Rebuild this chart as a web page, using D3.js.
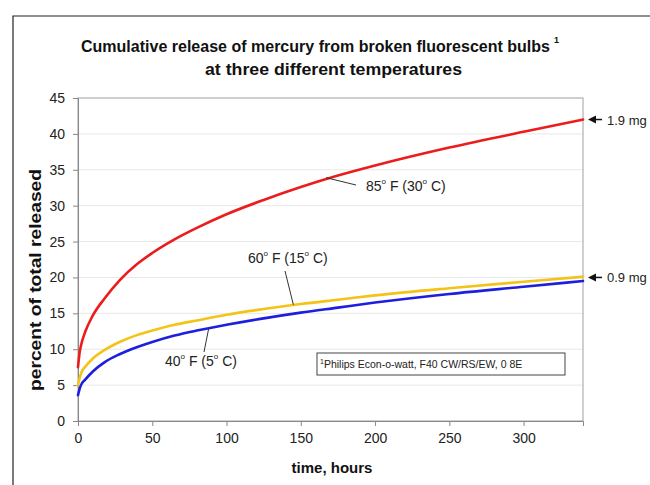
<!DOCTYPE html>
<html>
<head>
<meta charset="utf-8">
<script src="https://cdn.jsdelivr.net/npm/d3@7"></script>
<style>
  body { margin: 0; background: #fff; }
  svg { display: block; font-family: "Liberation Sans", Arial, sans-serif; }
</style>
</head>
<body>
<div id="chart"></div>
<script>
// ---- data ----
const hours   = [0, 1, 2, 5, 10, 18, 28, 40, 50, 65, 80, 100, 125, 150, 175, 200, 250, 300, 340];
const temp85F = [7.5, 9.4, 10.5, 12.5, 14.7, 17.1, 19.6, 21.9, 23.4, 25.3, 26.9, 28.8, 30.8, 32.6, 34.2, 35.6, 38.1, 40.3, 42.0];
const temp60F = [5.0, 5.9, 6.6, 7.6, 8.7, 9.9, 11.0, 12.0, 12.6, 13.4, 14.0, 14.8, 15.6, 16.3, 16.9, 17.5, 18.5, 19.4, 20.1];
const temp40F = [3.6, 4.4, 5.0, 5.8, 6.9, 8.2, 9.3, 10.3, 11.0, 11.9, 12.6, 13.4, 14.3, 15.1, 15.8, 16.5, 17.7, 18.7, 19.5];
const xTicks = [0, 50, 100, 150, 200, 250, 300];
const yTicks = [0, 5, 10, 15, 20, 25, 30, 35, 40, 45];
const colors = ["#ec1c1c", "#f4c318", "#1e1ede"];

const W = 650, H = 485;
const svg = d3.select("#chart").append("svg").attr("width", W).attr("height", H);

// outer frame (left and top edges visible)
svg.append("path").attr("d", "M13,485 L13,16 L650,16").attr("fill", "none").attr("stroke", "#222").attr("stroke-width", 1.2);

const plot = { left: 78, right: 583, top: 98, bottom: 421 };
const x = d3.scaleLinear().domain([0, 340]).range([plot.left, plot.right]);
const y = d3.scaleLinear().domain([0, 45]).range([plot.bottom, plot.top]);

// title
const title = svg.append("g").attr("font-weight", "bold").attr("fill", "#111");
title.append("text").attr("x", 81).attr("y", 52).attr("font-size", 16.2)
  .attr("textLength", 469).attr("lengthAdjust", "spacingAndGlyphs")
  .text("Cumulative release of mercury from broken fluorescent bulbs");
title.append("text").attr("x", 554).attr("y", 43).attr("font-size", 9).text("1");
title.append("text").attr("x", 205).attr("y", 75).attr("font-size", 16.5)
  .attr("textLength", 257).attr("lengthAdjust", "spacingAndGlyphs")
  .text("at three different temperatures");

// gridlines
svg.append("g").selectAll("line").data(yTicks.filter(d => d > 0 && d < 45)).join("line")
  .attr("x1", plot.left).attr("x2", plot.right)
  .attr("y1", d => y(d)).attr("y2", d => y(d))
  .attr("stroke", "#e8e8e8").attr("stroke-width", 1);

// plot border
svg.append("rect").attr("x", plot.left).attr("y", plot.top)
  .attr("width", plot.right - plot.left).attr("height", plot.bottom - plot.top)
  .attr("fill", "none").attr("stroke", "#a0a0a0").attr("stroke-width", 1);

// axes
const yAxis = svg.append("g").attr("transform", `translate(${plot.left},0)`)
  .call(d3.axisLeft(y).tickValues(yTicks).tickSize(5).tickPadding(8));
const xAxis = svg.append("g").attr("transform", `translate(0,${plot.bottom})`)
  .call(d3.axisBottom(x).tickValues(xTicks).tickSize(5).tickPadding(7));
[yAxis, xAxis].forEach(a => {
  a.select(".domain").attr("stroke", "#888");
  a.selectAll(".tick line").attr("stroke", "#888");
  a.selectAll(".tick text").attr("font-size", 14).attr("fill", "#222")
    .attr("font-family", "'Liberation Sans', Arial, sans-serif");
});

// axis titles
svg.append("text").attr("transform", "translate(41,280) rotate(-90)")
  .attr("text-anchor", "middle").attr("font-weight", "bold").attr("font-size", 16).attr("fill", "#111")
  .attr("textLength", 222).attr("lengthAdjust", "spacingAndGlyphs")
  .text("percent of total released");
svg.append("text").attr("x", 332).attr("y", 473)
  .attr("text-anchor", "middle").attr("font-weight", "bold").attr("font-size", 15).attr("fill", "#111")
  .text("time, hours");

// lines
const line = d3.line().x((d, i) => x(hours[i])).y(d => y(d)).curve(d3.curveMonotoneX);
[temp85F, temp60F, temp40F].forEach((s, k) => {
  svg.append("path").datum(s).attr("d", line)
    .attr("fill", "none").attr("stroke", colors[k]).attr("stroke-width", 2.6)
    .attr("stroke-linejoin", "round").attr("stroke-linecap", "round");
});

// temperature labels with leaders
function degLabel(xp, yp, parts) {
  const t = svg.append("text").attr("x", xp).attr("y", yp).attr("font-size", 14).attr("fill", "#222");
  parts.forEach(p => {
    if (p.sup) t.append("tspan").attr("font-size", 8).attr("dy", -7).text(p.sup);
    else t.append("tspan").attr("dy", p.down ? 7 : 0).text(p.t);
  });
  return t;
}
function leader(x1, y1, x2, y2) {
  svg.append("line").attr("x1", x1).attr("y1", y1).attr("x2", x2).attr("y2", y2)
    .attr("stroke", "#333").attr("stroke-width", 1);
}
leader(x(167), y(33.9), 356, 185);
degLabel(366, 191, [{t: "85"}, {sup: "o"}, {t: " F (30", down: true}, {sup: "o"}, {t: " C)", down: true}]);
leader(x(145), y(16.2), 285, 271);
degLabel(248, 263, [{t: "60"}, {sup: "o"}, {t: " F (15", down: true}, {sup: "o"}, {t: " C)", down: true}]);
leader(x(88), y(12.9), 204, 352);
degLabel(165, 366, [{t: "40"}, {sup: "o"}, {t: " F (5", down: true}, {sup: "o"}, {t: " C)", down: true}]);

// footnote box
svg.append("rect").attr("x", 317).attr("y", 353).attr("width", 248).attr("height", 22)
  .attr("fill", "#fff").attr("stroke", "#444").attr("stroke-width", 1);
const fn = svg.append("text").attr("x", 320).attr("y", 368).attr("font-size", 10.5).attr("fill", "#222");
fn.append("tspan").attr("font-size", 7).attr("dy", -4).text("1");
fn.append("tspan").attr("dy", 4).text("Philips Econ-o-watt, F40 CW/RS/EW,  0 8E");

// right-hand arrows
function arrowNote(v, label) {
  const yy = y(v);
  svg.append("line").attr("x1", 602).attr("x2", 594).attr("y1", yy).attr("y2", yy).attr("stroke", "#111").attr("stroke-width", 1.5);
  svg.append("path").attr("d", `M588,${yy} L596,${yy - 4} L596,${yy + 4} Z`).attr("fill", "#111");
  svg.append("text").attr("x", 607).attr("y", yy + 5).attr("font-size", 13).attr("fill", "#222").text(label);
}
arrowNote(temp85F[temp85F.length - 1], "1.9 mg");
arrowNote(20.0, "0.9 mg");
</script>
</body>
</html>
